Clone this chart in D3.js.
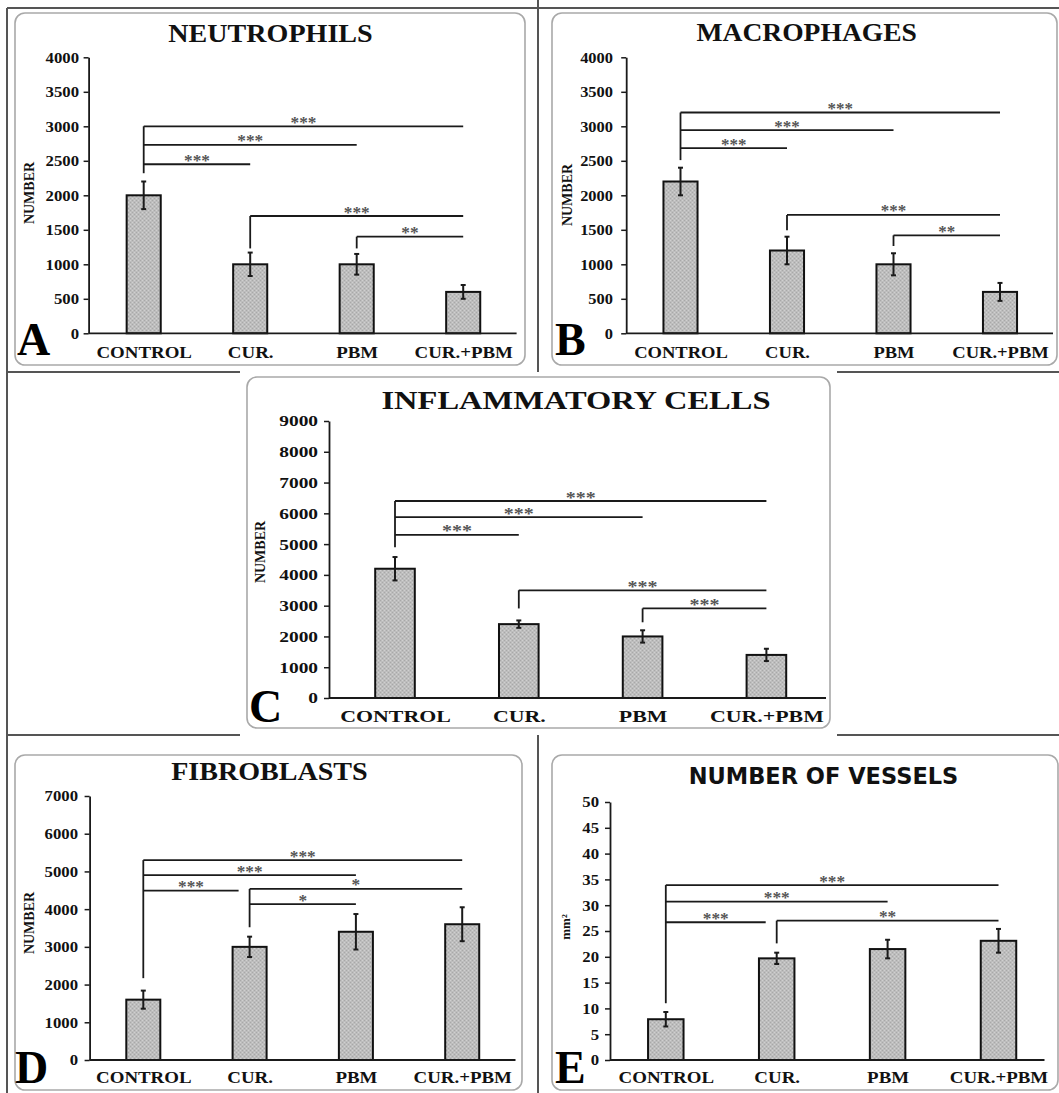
<!DOCTYPE html>
<html><head><meta charset="utf-8">
<script src="https://cdn.jsdelivr.net/npm/d3@7"></script>
<style>body{margin:0;background:#fff} svg{display:block}</style>
</head><body>
<svg id="fig" width="1059" height="1093"></svg>
<script>
// ---------------- DATA ----------------
const categories = ["CONTROL", "CUR.", "PBM", "CUR.+PBM"];

const neutrophilMeans = [2000, 1000, 1000, 600];
const neutrophilErrors = [200, 170, 150, 100];
const neutrophilTicks = [0, 500, 1000, 1500, 2000, 2500, 3000, 3500, 4000];
const neutrophilBrackets = [
  {from: 0, to: 3, level: 3000, label: "***"},
  {from: 0, to: 2, level: 2730, label: "***"},
  {from: 0, to: 1, level: 2450, label: "***"},
  {from: 1, to: 3, level: 1700, label: "***"},
  {from: 2, to: 3, level: 1400, label: "**"}
];
const neutrophilDrops = [2320, 1230, 1230, null];

const macrophageMeans = [2200, 1200, 1000, 600];
const macrophageErrors = [200, 200, 160, 130];
const macrophageTicks = [0, 500, 1000, 1500, 2000, 2500, 3000, 3500, 4000];
const macrophageBrackets = [
  {from: 0, to: 3, level: 3200, label: "***"},
  {from: 0, to: 2, level: 2945, label: "***"},
  {from: 0, to: 1, level: 2685, label: "***"},
  {from: 1, to: 3, level: 1715, label: "***"},
  {from: 2, to: 3, level: 1420, label: "**"}
];
const macrophageDrops = [2510, 1495, 1265, null];

const inflammatoryMeans = [4200, 2400, 2000, 1400];
const inflammatoryErrors = [380, 120, 200, 200];
const inflammatoryTicks = [0, 1000, 2000, 3000, 4000, 5000, 6000, 7000, 8000, 9000];
const inflammatoryBrackets = [
  {from: 0, to: 3, level: 6400, label: "***"},
  {from: 0, to: 2, level: 5880, label: "***"},
  {from: 0, to: 1, level: 5300, label: "***"},
  {from: 1, to: 3, level: 3500, label: "***"},
  {from: 2, to: 3, level: 2910, label: "***"}
];
const inflammatoryDrops = [4900, 2910, 2460, null];

const fibroblastMeans = [1600, 3000, 3400, 3600];
const fibroblastErrors = [240, 270, 470, 450];
const fibroblastTicks = [0, 1000, 2000, 3000, 4000, 5000, 6000, 7000];
const fibroblastBrackets = [
  {from: 0, to: 3, level: 5300, label: "***"},
  {from: 0, to: 2, level: 4900, label: "***"},
  {from: 0, to: 1, level: 4490, label: "***"},
  {from: 1, to: 3, level: 4535, label: "*"},
  {from: 1, to: 2, level: 4135, label: "*"}
];
const fibroblastDrops = [2170, 3520, null, null];

const vesselMeans = [7.9, 19.7, 21.5, 23.1];
const vesselErrors = [1.4, 1.1, 1.8, 2.3];
const vesselTicks = [0, 5, 10, 15, 20, 25, 30, 35, 40, 45, 50];
const vesselBrackets = [
  {from: 0, to: 3, level: 33.9, label: "***"},
  {from: 0, to: 2, level: 30.7, label: "***"},
  {from: 0, to: 1, level: 26.7, label: "***"},
  {from: 1, to: 3, level: 27.0, label: "**"}
];
const vesselDrops = [11.0, 22.6, null, null];

// ---------------- DRAWING ----------------
const svg = d3.select("#fig");
const SERIF = "'Liberation Serif','Times New Roman',serif";
const SANS = "'DejaVu Sans','Open Sans',sans-serif";
const INK = "#1a1a1a";

const defs = svg.append("defs");
const pat = defs.append("pattern").attr("id", "dots")
  .attr("width", 4).attr("height", 4).attr("patternUnits", "userSpaceOnUse");
pat.append("rect").attr("width", 4).attr("height", 4).attr("fill", "#bdbdbd");
[[0, 0, "#a8a8a8"], [2, 2, "#a8a8a8"], [2, 0, "#d0d0d0"], [0, 2, "#d0d0d0"]]
  .forEach(([px, py, c]) => pat.append("rect").attr("x", px).attr("y", py)
    .attr("width", 1).attr("height", 1).attr("fill", c));

// frame / separators
const frameLines = [
  [7, 8, 1059, 8], [7, 8, 7, 1093], [538, 0, 538, 372],
  [7, 372, 240, 372], [837, 372, 1059, 372],
  [7, 735, 240, 735], [837, 735, 1059, 735], [538, 735, 538, 1093]
];

function stext(g, x, y, str, size, sx, opts = {}) {
  return g.append("text")
    .attr("transform", `translate(${x},${y}) scale(${sx},1)`)
    .attr("text-anchor", opts.anchor || "middle")
    .attr("font-family", opts.family || SERIF)
    .attr("font-weight", "bold")
    .attr("font-size", size)
    .attr("fill", opts.fill || "#111")
    .text(str);
}

function drawPanel(cfg, means, errors, ticks, brackets, drops) {
  const g = svg.append("g");
  const sx = cfg.sx;
  g.append("rect")
    .attr("x", cfg.box[0]).attr("y", cfg.box[1])
    .attr("width", cfg.box[2]).attr("height", cfg.box[3])
    .attr("rx", 10).attr("fill", "#fff")
    .attr("stroke", "#a9a9a9").attr("stroke-width", 1.6);

  const y = d3.scaleLinear().domain([0, ticks[ticks.length - 1]]).range([cfg.y0, cfg.yTop]);
  const x = d3.scalePoint().domain(categories).range([cfg.c0, cfg.c0 + 3 * cfg.step]);
  const bw = cfg.step * 0.32;

  // title
  stext(g, cfg.titleX, cfg.titleY, cfg.title, cfg.titleSize, cfg.titleSx || sx,
    {family: cfg.titleFamily || SERIF});

  // y axis
  const ya = g.append("g").attr("transform", `translate(${cfg.ax},0)`)
    .call(d3.axisLeft(y).tickValues(ticks).tickFormat(d3.format("d")).tickSize(5).tickSizeOuter(0));
  ya.select(".domain").attr("stroke", INK).attr("stroke-width", 1.8);
  ya.selectAll(".tick line").attr("stroke", INK).attr("stroke-width", 1.5);
  ya.selectAll(".tick text")
    .attr("font-family", SERIF).attr("font-weight", "bold").attr("font-size", 15.5)
    .attr("fill", "#111")
    .attr("x", -(cfg.ax - cfg.tickRight) / sx)
    .attr("transform", `scale(${sx},1)`);

  // y label
  g.append("text")
    .attr("transform", `translate(${cfg.ylabX},${cfg.ylabY}) rotate(-90)`)
    .attr("text-anchor", "middle").attr("dy", "0.35em")
    .attr("font-family", SERIF).attr("font-weight", "bold")
    .attr("font-size", cfg.ylabSize || 14).attr("fill", "#111")
    .text(cfg.ylabel);

  // bars
  g.selectAll("rect.bar").data(means).join("rect").attr("class", "bar")
    .attr("x", (v, i) => x(categories[i]) - bw / 2)
    .attr("y", v => y(v))
    .attr("width", bw)
    .attr("height", v => y(0) - y(v))
    .attr("fill", "url(#dots)")
    .attr("stroke", "#111").attr("stroke-width", 2);

  // x axis line
  g.append("line").attr("x1", cfg.ax).attr("x2", cfg.xEnd)
    .attr("y1", y(0)).attr("y2", y(0))
    .attr("stroke", INK).attr("stroke-width", 1.8);

  // x labels
  const xa = g.append("g").attr("transform", `translate(0,${y(0)})`)
    .call(d3.axisBottom(x).tickSize(0));
  xa.select(".domain").remove();
  xa.selectAll(".tick text")
    .attr("font-family", SERIF).attr("font-weight", "bold").attr("font-size", 17.5)
    .attr("fill", "#111")
    .attr("y", cfg.xlabY - y(0)).attr("dy", 0)
    .attr("transform", `scale(${sx},1)`);

  // error bars
  const eg = g.append("g").attr("stroke", INK).attr("stroke-width", 2);
  means.forEach((m, i) => {
    const cx = x(categories[i]);
    const hi = y(m + errors[i]), lo = y(m - errors[i]);
    eg.append("line").attr("x1", cx).attr("x2", cx).attr("y1", hi).attr("y2", lo);
    eg.append("line").attr("x1", cx - 2.5).attr("x2", cx + 2.5).attr("y1", hi).attr("y2", hi);
    eg.append("line").attr("x1", cx - 2.5).attr("x2", cx + 2.5).attr("y1", lo).attr("y2", lo);
  });

  // significance brackets
  const bg = g.append("g");
  const topOf = i => d3.max(brackets.filter(b => b.from === i), b => b.level);
  drops.forEach((low, i) => {
    if (low == null) return;
    const cx = x(categories[i]);
    bg.append("line").attr("x1", cx).attr("x2", cx)
      .attr("y1", y(topOf(i))).attr("y2", y(low))
      .attr("stroke", INK).attr("stroke-width", 1.8);
  });
  brackets.forEach(b => {
    const x1 = x(categories[b.from]);
    let x2 = x(categories[b.to]);
    const dl = drops[b.to];
    if (dl != null && b.level >= dl && b.level <= topOf(b.to)) x2 -= 11;
    bg.append("line").attr("x1", x1).attr("x2", x2)
      .attr("y1", y(b.level)).attr("y2", y(b.level))
      .attr("stroke", INK).attr("stroke-width", 1.8);
    stext(bg, (x1 + x2) / 2, y(b.level) + 1.5, b.label, 16, sx, {fill: "#555"});
  });

  // panel letter
  stext(g, cfg.letterX, cfg.letterY, cfg.letter, 46, 1, {anchor: "start", fill: "#000"});
}

frameLines.forEach(([x1, y1, x2, y2]) =>
  svg.append("line").attr("x1", x1).attr("y1", y1).attr("x2", x2).attr("y2", y2)
    .attr("stroke", "#555").attr("stroke-width", 2));

drawPanel({box: [15, 13, 510, 352], ax: 88.6, y0: 333.3, yTop: 57.3, xEnd: 516.6,
  c0: 143.7, step: 106.5, title: "NEUTROPHILS", titleSize: 26, titleX: 270.5, titleY: 42,
  tickRight: 79, ylabel: "NUMBER", ylabX: 29, ylabY: 193, letter: "A", letterX: 17, letterY: 355,
  xlabY: 358, sx: 1.08},
  neutrophilMeans, neutrophilErrors, neutrophilTicks, neutrophilBrackets, neutrophilDrops);

drawPanel({box: [552, 13, 505, 352], ax: 626.2, y0: 333.3, yTop: 57.3, xEnd: 1053,
  c0: 680.5, step: 106.5, title: "MACROPHAGES", titleSize: 26, titleX: 806.7, titleY: 41,
  tickRight: 613, ylabel: "NUMBER", ylabX: 567, ylabY: 195, letter: "B", letterX: 555, letterY: 355,
  xlabY: 358, sx: 1.06},
  macrophageMeans, macrophageErrors, macrophageTicks, macrophageBrackets, macrophageDrops);

drawPanel({box: [247, 377, 583, 351], ax: 329, y0: 698, yTop: 421, xEnd: 826,
  c0: 395, step: 123.8, title: "INFLAMMATORY CELLS", titleSize: 26, titleX: 576, titleY: 409,
  tickRight: 318, ylabel: "NUMBER", ylabX: 260, ylabY: 552, letter: "C", letterX: 249, letterY: 722,
  xlabY: 722, sx: 1.25},
  inflammatoryMeans, inflammatoryErrors, inflammatoryTicks, inflammatoryBrackets, inflammatoryDrops);

drawPanel({box: [15, 755, 507, 335], ax: 89.6, y0: 1060, yTop: 796, xEnd: 515.5,
  c0: 143.3, step: 106.3, title: "FIBROBLASTS", titleSize: 26, titleX: 269.4, titleY: 780,
  tickRight: 78, ylabel: "NUMBER", ylabX: 29, ylabY: 923, letter: "D", letterX: 15, letterY: 1083,
  xlabY: 1083, sx: 1.08},
  fibroblastMeans, fibroblastErrors, fibroblastTicks, fibroblastBrackets, fibroblastDrops);

drawPanel({box: [552, 755, 506, 335], ax: 610, y0: 1060, yTop: 802, xEnd: 1044.5,
  c0: 665.8, step: 110.9, title: "NUMBER OF VESSELS", titleSize: 22.5, titleFamily: SANS,
  titleSx: 1.0, titleX: 823.5, titleY: 784,
  tickRight: 599, ylabel: "mm²", ylabSize: 13, ylabX: 565, ylabY: 927, letter: "E", letterX: 555, letterY: 1083,
  xlabY: 1083, sx: 1.08},
  vesselMeans, vesselErrors, vesselTicks, vesselBrackets, vesselDrops);
</script>
</body></html>
